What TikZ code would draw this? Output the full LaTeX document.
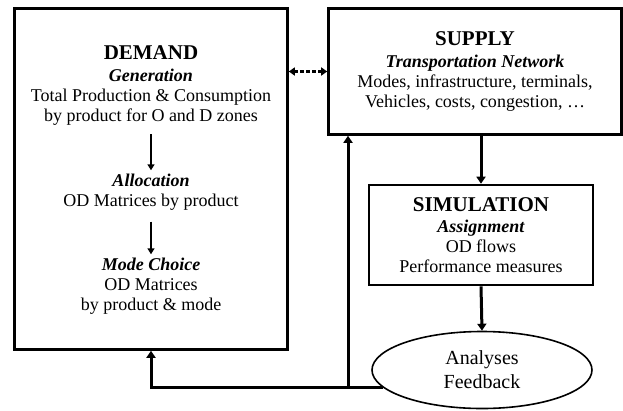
\documentclass[tikz,border=0pt]{standalone}
\usepackage{fontspec}
\setmainfont{Liberation Serif}
\usetikzlibrary{shapes.geometric,arrows.meta}

\begin{document}
\begin{tikzpicture}[x=1pt, y=-1pt,
  box/.style={draw, line width=2.6pt},
  txt/.style={align=center, font=\fontsize{18}{20}\selectfont},
  flow/.style={-{Triangle[length=7pt,width=9pt]}, line width=3pt},
  inner/.style={-{Triangle[length=6pt,width=7pt]}, line width=1.8pt},
  link/.style={{Triangle[length=6pt,width=8pt]}-{Triangle[length=6pt,width=8pt]}, line width=2.4pt, dash pattern=on 4pt off 2pt}]
  \useasboundingbox (0,0) rectangle (623,410);

  % demand side
  \node[box, minimum width=273pt, minimum height=341pt] (demand) at (151,179) {};
  \node[txt] (gen) at (151,86) {{\fontsize{21}{24}\selectfont\bfseries DEMAND}\\[2pt]
    \textbf{\textit{Generation}}\\ Total Production \& Consumption\\ by product for O and D zones};
  \node[txt] (alloc) at (151,192) {\textbf{\textit{Allocation}}\\ OD Matrices by product};
  \node[txt] (mode) at (151,286) {\textbf{\textit{Mode Choice}}\\ OD Matrices\\ by product \& mode};
  \draw[inner, shorten <=5pt] (gen) -- (alloc);
  \draw[inner, shorten <=8pt] (alloc) -- (mode);

  % supply, simulation, analyses
  \node[box, txt, minimum width=293pt, minimum height=126pt] (supply) at (475,71.5)
    {{\fontsize{21}{24}\selectfont\bfseries SUPPLY}\\[2pt]
    \textbf{\textit{Transportation Network}}\\ Modes, infrastructure, terminals,\\ Vehicles, costs, congestion, \ldots};
  \node[box, txt, minimum width=224pt, minimum height=100pt] (sim) at (481,235)
    {{\fontsize{21}{24}\selectfont\bfseries SIMULATION}\\[1pt]
    \textbf{\textit{Assignment}}\\ OD flows\\ Performance measures};
  \node[draw, ellipse, line width=1.6pt, align=center, font=\fontsize{20}{24}\selectfont,
    minimum width=220pt, minimum height=77pt] (ana) at (482,370) {Analyses\\ Feedback};

  \coordinate (fbx) at (348,0);
  \coordinate (fb) at (ana.190 -| fbx);

  \draw[link] (supply.west) -- (supply.west -| demand.east);
  \draw[flow] (supply.south -| sim.north) -- (sim.north);
  \draw[flow] (sim.south) -- (ana.north);
  \draw[flow] (ana.190) -- (ana.190 -| demand.south) -- (demand.south);
  \draw[flow] (fb) -- (supply.south -| fb);
\end{tikzpicture}
\end{document}
